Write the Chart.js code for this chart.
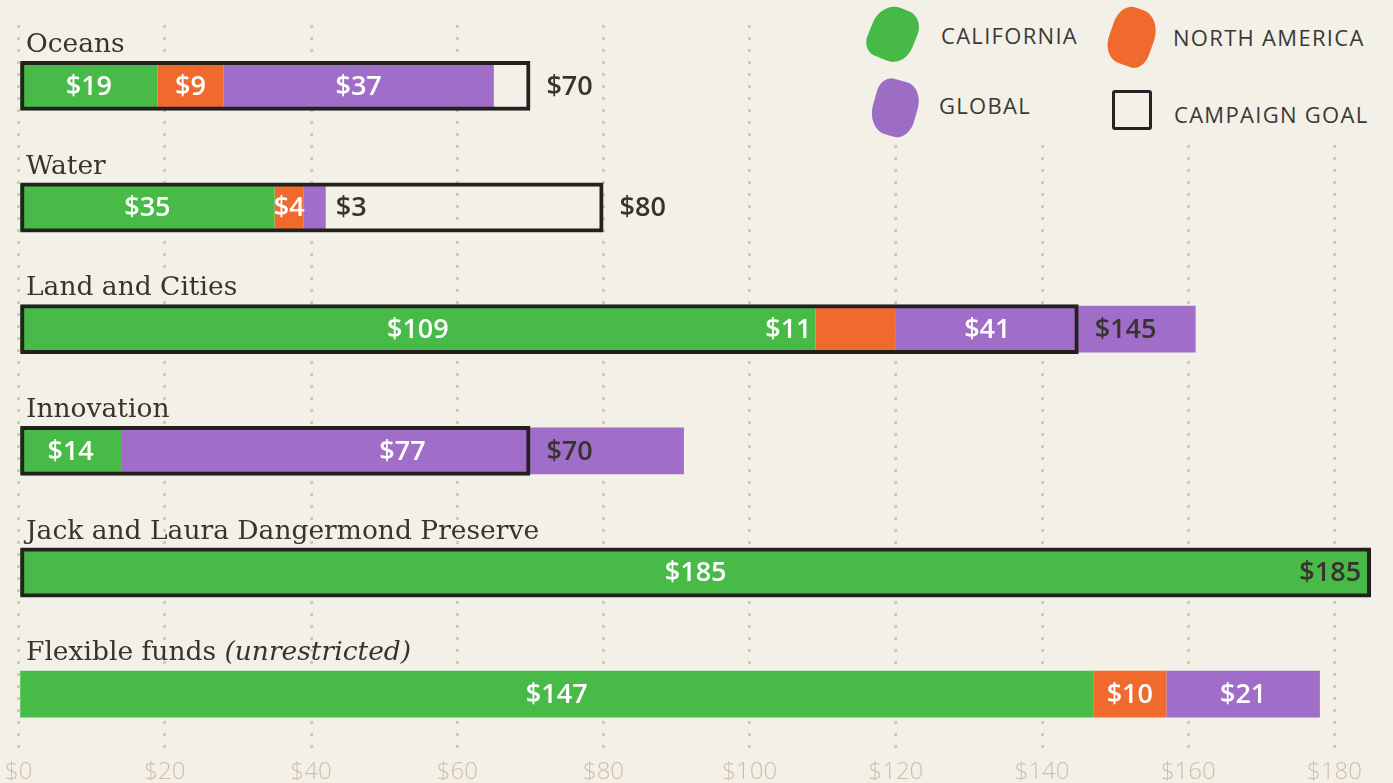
<!DOCTYPE html>
<html>
<head>
<meta charset="utf-8">
<script src="https://cdn.jsdelivr.net/npm/chart.js@4.4.1/dist/chart.umd.min.js"></script>
<style>
  html, body { margin: 0; padding: 0; background: #f3f0e8; }
  #wrap { position: relative; width: 1393px; height: 783px; overflow: hidden; }
  #c { position: absolute; left: 0; top: 0; }
  #legend { position: absolute; left: 856px; top: 0; width: 537px; height: 142px; background: #f3f0e8;
            font-family: "Open Sans", sans-serif; font-size: 22px; letter-spacing: 1.3px; color: #3a3836; }
  .txt { position: absolute; white-space: nowrap; line-height: 28px; }
  .sw { position: absolute; }
</style>
</head>
<body>
<div id="wrap">
  <canvas id="c" width="1393" height="783"></canvas>
  <div id="legend">
    <div class="sw" style="left:14px;top:7px;width:46px;height:54px;background:#46b946;border-radius:45% 35% 40% 30%;transform:rotate(22deg);"></div>
    <div class="txt" style="left:85px;top:21px;">CALIFORNIA</div>
    <div class="sw" style="left:254px;top:8px;width:44px;height:58px;background:#ef6a2c;border-radius:35% 45% 30% 40%;transform:rotate(20deg);"></div>
    <div class="txt" style="left:317px;top:23px;">NORTH AMERICA</div>
    <div class="sw" style="left:17px;top:80px;width:44px;height:56px;background:#9d6dc6;border-radius:30% 40% 35% 45%;transform:rotate(16deg);"></div>
    <div class="txt" style="left:83px;top:91px;">GLOBAL</div>
    <div style="position:absolute;left:256px;top:90px;width:40px;height:40px;box-sizing:border-box;border:3.5px solid #222;border-radius:3px;"></div>
    <div class="txt" style="left:318px;top:100px;">CAMPAIGN GOAL</div>
  </div>
</div>
<script>
// ---- data ----
const categories    = ['Oceans', 'Water', 'Land and Cities', 'Innovation', 'Jack and Laura Dangermond Preserve', 'Flexible funds'];
const categoryNotes = ['', '', '', '', '', '(unrestricted)'];
const california    = [19, 35, 109, 14, 185, 147];
const northAmerica  = [9, 4, 11, null, null, 10];
const globalFunds   = [37, 3, 41, 77, null, 21];
const campaignGoal  = [70, 80, 145, 70, 185, null];
const xTickValues   = [0, 20, 40, 60, 80, 100, 120, 140, 160, 180];
const xTickLabels   = ['$0', '$20', '$40', '$60', '$80', '$100', '$120', '$140', '$160', '$180'];

// ---- style ----
const GREEN = '#48ba47', ORANGE = '#ef6a2c', PURPLE = '#a06ec8';
const DARK = '#38332e';
const LABEL_FONT = '600 27px "Open Sans", sans-serif';
const CAT_FONT = '26.5px "DejaVu Serif", serif';
const CAT_FONT_IT = 'italic 26.5px "DejaVu Serif", serif';
// label placement tweaks (style, not data)
const labelOverrides = { '2|1': 'before', '2|2': 'insideGoal' };

const valueLabels = {
  id: 'valueLabels',
  afterDatasetsDraw(chart) {
    const ctx = chart.ctx;
    const xs = chart.scales.x;
    ctx.save();
    ctx.font = LABEL_FONT;
    ctx.textBaseline = 'middle';
    // fund segments
    for (let d = 0; d < 3; d++) {
      const meta = chart.getDatasetMeta(d);
      const data = chart.data.datasets[d].data;
      meta.data.forEach((el, i) => {
        const v = data[i];
        if (v == null) return;
        const text = '$' + v;
        const tw = ctx.measureText(text).width;
        const w = Math.abs(el.x - el.base);
        const place = labelOverrides[i + '|' + d] || (w >= tw * 0.75 ? 'center' : 'after');
        if (place === 'center') {
          ctx.fillStyle = '#ffffff';
          ctx.textAlign = 'center';
          ctx.fillText(text, (el.x + el.base) / 2, el.y + 1);
        } else if (place === 'insideGoal') {
          const gx = xs.getPixelForValue(campaignGoal[i]);
          ctx.fillStyle = '#ffffff';
          ctx.textAlign = 'center';
          ctx.fillText(text, (Math.min(el.x, gx) + el.base) / 2, el.y + 1);
        } else if (place === 'before') {
          ctx.fillStyle = '#ffffff';
          ctx.textAlign = 'right';
          ctx.fillText(text, el.base - 4, el.y + 1);
        } else {
          ctx.fillStyle = DARK;
          ctx.textAlign = 'left';
          ctx.fillText(text, el.x + 10, el.y + 1);
        }
      });
    }
    // goal labels
    const gmeta = chart.getDatasetMeta(3);
    gmeta.data.forEach((el, i) => {
      const v = campaignGoal[i];
      if (v == null) return;
      const text = '$' + v;
      const tw = ctx.measureText(text).width;
      const gx = xs.getPixelForValue(v);
      ctx.fillStyle = DARK;
      if (gx + 16 + tw < chart.chartArea.right) {
        ctx.textAlign = 'left';
        ctx.fillText(text, gx + 16, el.y + 1);
      } else {
        ctx.textAlign = 'right';
        ctx.fillText(text, gx - 10, el.y + 1);
      }
    });
    // category titles
    const ys = chart.scales.y;
    ctx.textAlign = 'left';
    ctx.textBaseline = 'alphabetic';
    ctx.fillStyle = DARK;
    categories.forEach((c, i) => {
      const y = ys.getPixelForValue(i) - 34;
      ctx.font = CAT_FONT;
      const main = categoryNotes[i] ? c + ' ' : c;
      ctx.fillText(main, 26, y);
      if (categoryNotes[i]) {
        const mw = ctx.measureText(main).width;
        ctx.font = CAT_FONT_IT;
        ctx.fillText(categoryNotes[i], 26 + mw, y);
      }
    });
    ctx.restore();
  }
};

const bgPlugin = {
  id: 'bg',
  beforeDraw(chart) {
    const ctx = chart.ctx;
    ctx.save();
    ctx.fillStyle = '#f3f0e8';
    ctx.fillRect(0, 0, chart.width, chart.height);
    ctx.restore();
  }
};

const barCommon = { grouped: false, categoryPercentage: 1, barPercentage: 0.385, borderWidth: 0, borderSkipped: false };

new Chart(document.getElementById('c'), {
  type: 'bar',
  data: {
    labels: categories,
    datasets: [
      Object.assign({ label: 'California', data: california, backgroundColor: GREEN, stack: 'funds', order: 1 }, barCommon),
      Object.assign({ label: 'North America', data: northAmerica, backgroundColor: ORANGE, stack: 'funds', order: 1 }, barCommon),
      Object.assign({ label: 'Global', data: globalFunds, backgroundColor: PURPLE, stack: 'funds', order: 1 }, barCommon),
      Object.assign({}, barCommon, { label: 'Campaign goal', data: campaignGoal, backgroundColor: 'rgba(0,0,0,0)',
        borderColor: '#232120', borderWidth: 4, stack: 'goal', order: 0, barPercentage: 0.41 })
    ]
  },
  options: {
    indexAxis: 'y',
    responsive: false,
    animation: false,
    devicePixelRatio: 1,
    layout: { padding: { left: 18, right: 0, top: 25, bottom: -6 } },
    plugins: { legend: { display: false }, tooltip: { enabled: false } },
    scales: {
      y: { type: 'category', display: false, stacked: true, offset: true },
      x: {
        type: 'linear', stacked: true, min: 0, max: 188,
        afterBuildTicks(scale) { scale.ticks = xTickValues.map(v => ({ value: v })); },
        ticks: {
          includeBounds: false,
          padding: 5,
          color: '#d3bda5',
          font: { family: '"Open Sans", sans-serif', size: 24, weight: '300', lineHeight: 1 },
          callback: (v) => xTickLabels[xTickValues.indexOf(v)]
        },
        grid: { color: '#dbc6ae', lineWidth: 3, drawTicks: false, tickLength: 0 },
        border: { display: false, dash: [3, 9] }
      }
    }
  },
  plugins: [bgPlugin, valueLabels]
});
</script>
</body>
</html>
